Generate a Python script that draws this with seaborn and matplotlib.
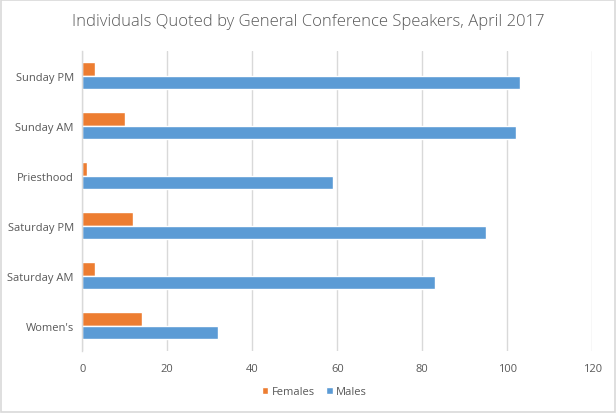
import matplotlib
matplotlib.use("Agg")
import matplotlib.pyplot as plt
import pandas as pd
import seaborn as sns

# data (top to bottom)
sessions = ["Sunday PM", "Sunday AM", "Priesthood", "Saturday PM", "Saturday AM", "Women's"]
females = [3, 10, 1, 12, 3, 14]
males = [103, 102, 59, 95, 83, 32]
x_ticks = [0, 20, 40, 60, 80, 100, 120]

df = pd.DataFrame({
    "session": sessions * 2,
    "count": females + males,
    "gender": ["Females"] * len(sessions) + ["Males"] * len(sessions),
})

sns.set_theme(style="white")
plt.rcParams["font.family"] = ["Open Sans", "DejaVu Sans"]

text_grey = "#595959"
grid_grey = "#D9D9D9"

fig = plt.figure(figsize=(6.16, 4.14), dpi=100)
ax = fig.add_axes([0.1336, 0.1498, 0.9615 - 0.1336, 0.8744 - 0.1498])

sns.barplot(data=df, x="count", y="session", hue="gender", orient="h",
            order=sessions, hue_order=["Females", "Males"],
            palette={"Females": "#ED7D31", "Males": "#5B9BD5"},
            width=0.54, gap=0, saturation=1, ax=ax)

ax.set_xlim(0, 120)
ax.set_xticks(x_ticks)
ax.set_xticklabels([str(t) for t in x_ticks])
ax.xaxis.grid(True, color=grid_grey, linewidth=1)
ax.set_axisbelow(True)
for side in ["top", "right", "bottom"]:
    ax.spines[side].set_visible(False)
ax.spines["left"].set_color(grid_grey)
ax.spines["left"].set_linewidth(1)
ax.tick_params(axis="both", length=0, labelsize=8, colors=text_grey, pad=6)
ax.tick_params(axis="x", pad=9)
ax.set_xlabel("")
ax.set_ylabel("")

ax.legend(loc="upper center", bbox_to_anchor=(0.455, -0.085), ncol=2, frameon=False,
          fontsize=8, handlelength=0.6, handleheight=0.6, handletextpad=0.3,
          columnspacing=1.0, labelcolor=text_grey)

fig.suptitle("Individuals Quoted by General Conference Speakers, April 2017",
             x=0.5, y=0.965, fontsize=12, color=text_grey, fontweight="light")

# light border around the chart, like the Excel chart area
fig.patches.append(plt.Rectangle((0.002, 0.002), 0.996, 0.996, transform=fig.transFigure,
                                 fill=False, edgecolor=grid_grey, linewidth=1.2))

fig.savefig("out.png", dpi=100)
